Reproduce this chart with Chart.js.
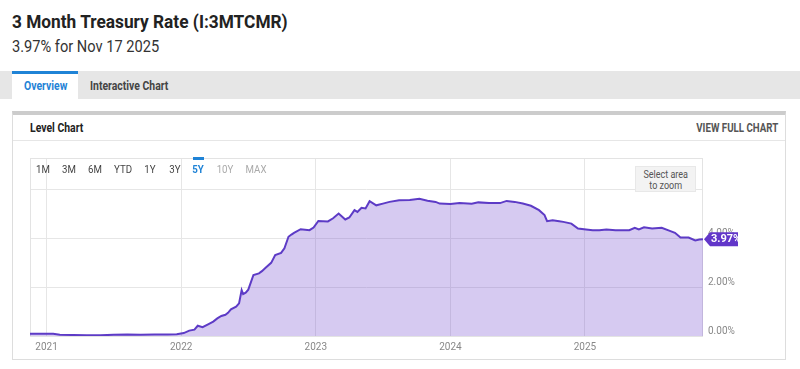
<!DOCTYPE html>
<html>
<head>
<meta charset="utf-8">
<script src="https://cdn.jsdelivr.net/npm/chart.js@4.4.0/dist/chart.umd.min.js"></script>
<style>
  html, body { margin: 0; padding: 0; background: #fff; }
  body { width: 800px; height: 369px; position: relative; overflow: hidden; font-family: Roboto, "Noto Sans", sans-serif; }
  .t { position: absolute; white-space: nowrap; line-height: 1; transform-origin: left center; transform: scaleX(0.87); }
  .tr { transform-origin: right center; }
  .btn { position: absolute; top: 164px; font-size: 11px; line-height: 11px; color: #444; white-space: nowrap; transform: translateX(-50%) scaleX(0.88); }
  #tabbar { position: absolute; left: 0; top: 71px; width: 800px; height: 28px; background: #e6e6e6; }
  #tabOn { position: absolute; left: 12px; top: 71px; width: 66px; height: 28px; background: #fff; border-top: 3px solid #1f83d6; box-sizing: border-box; }
  #box { position: absolute; left: 12px; top: 111px; width: 774px; height: 249px; border: 1px solid #ddd; border-top: 4px solid #ccc; box-sizing: border-box; }
  #sep { position: absolute; left: 13px; top: 140px; width: 772px; height: 1px; background: #e6e6e6; }
  #wrap { position: absolute; left: 0; top: 142px; width: 800px; height: 218px; }
  #zoomBox { position: absolute; left: 635px; top: 166px; width: 61px; height: 26px; background: #f3f3f3; border: 1px solid #e8e8e8; box-sizing: border-box; font-size: 10px; line-height: 11px; color: #555; text-align: center; padding-top: 2px; }
  #zoomBox span { display: inline-block; transform: scaleX(0.9); }
  #bar5y { position: absolute; left: 193px; top: 157px; width: 11px; height: 3px; background: #1f83d6; }
</style>
</head>
<body>
<div class="t" style="left:12px;top:13px;font-size:18px;font-weight:700;color:#222;transform:scaleX(0.96)">3 Month Treasury Rate (I:3MTCMR)</div>
<div class="t" style="left:12px;top:38px;font-size:17px;color:#333;transform:scaleX(0.86)">3.97% for Nov 17 2025</div>

<div id="tabbar"></div>
<div id="tabOn"></div>
<div class="t" style="left:24px;top:80px;font-size:12px;font-weight:700;color:#1f83d6">Overview</div>
<div class="t" style="left:90px;top:80px;font-size:12px;font-weight:700;color:#444">Interactive Chart</div>

<div id="box"></div>
<div id="sep"></div>
<div class="t" style="left:30px;top:122px;font-size:12px;font-weight:700;color:#222">Level Chart</div>
<div class="t tr" style="right:22px;top:122px;font-size:12px;font-weight:700;color:#555;transform:scaleX(0.81)">VIEW FULL CHART</div>

<div id="wrap"><canvas id="myChart"></canvas></div>

<div id="bar5y"></div>
<div class="btn" style="left:43px">1M</div>
<div class="btn" style="left:69px">3M</div>
<div class="btn" style="left:95px">6M</div>
<div class="btn" style="left:123px">YTD</div>
<div class="btn" style="left:150px">1Y</div>
<div class="btn" style="left:175px">3Y</div>
<div class="btn" style="left:198px;color:#1f83d6;font-weight:700">5Y</div>
<div class="btn" style="left:225px;color:#aaa">10Y</div>
<div class="btn" style="left:256px;color:#aaa">MAX</div>
<div id="zoomBox"><span>Select area<br>to zoom</span></div>

<script>
// Données (taux 3 mois, en %)
var dates = [
    '2020-11-17', '2020-12-13', '2021-01-19', '2021-02-06', '2021-03-15', '2021-04-20',
    '2021-05-27', '2021-07-02', '2021-08-08', '2021-09-13', '2021-10-20', '2021-11-25',
    '2021-12-20', '2022-01-08', '2022-01-23', '2022-02-06', '2022-02-15', '2022-02-28',
    '2022-03-15', '2022-03-29', '2022-04-09', '2022-04-20', '2022-05-01', '2022-05-08',
    '2022-05-16', '2022-05-30', '2022-06-07', '2022-06-14', '2022-06-18', '2022-06-25',
    '2022-07-02', '2022-07-16', '2022-07-31', '2022-08-08', '2022-08-18', '2022-09-02',
    '2022-09-13', '2022-09-29', '2022-10-08', '2022-10-19', '2022-10-27', '2022-11-03',
    '2022-11-21', '2022-12-15', '2022-12-26', '2023-01-08', '2023-02-03', '2023-02-17',
    '2023-03-04', '2023-03-22', '2023-04-02', '2023-04-16', '2023-04-24', '2023-05-05',
    '2023-05-16', '2023-05-27', '2023-06-14', '2023-07-02', '2023-07-20', '2023-08-15',
    '2023-09-13', '2023-10-09', '2023-10-31', '2023-11-22', '2023-12-03', '2024-01-01',
    '2024-01-26', '2024-02-28', '2024-03-17', '2024-04-15', '2024-05-15', '2024-06-02',
    '2024-06-24', '2024-07-16', '2024-08-07', '2024-08-29', '2024-09-13', '2024-09-20',
    '2024-10-05', '2024-10-23', '2024-11-03', '2024-11-25', '2024-12-13', '2025-01-04',
    '2025-01-22', '2025-02-09', '2025-02-28', '2025-03-25', '2025-05-01', '2025-05-16',
    '2025-05-27', '2025-06-10', '2025-07-02', '2025-07-28', '2025-08-19', '2025-09-02',
    '2025-09-17', '2025-10-09', '2025-10-27', '2025-11-07', '2025-11-17'
];
var rates = [
    0.09, 0.09, 0.09, 0.05, 0.04, 0.03,
    0.03, 0.05, 0.06, 0.05, 0.06, 0.06,
    0.07, 0.12, 0.22, 0.26, 0.42, 0.36,
    0.48, 0.59, 0.72, 0.82, 0.87, 0.95,
    1.09, 1.20, 1.34, 1.88, 1.72, 1.78,
    1.90, 2.50, 2.57, 2.66, 2.80, 3.00,
    3.32, 3.41, 3.60, 4.07, 4.16, 4.23,
    4.38, 4.34, 4.45, 4.72, 4.70, 4.83,
    5.02, 4.78, 4.86, 5.16, 5.09, 5.26,
    5.23, 5.53, 5.36, 5.43, 5.50, 5.57,
    5.58, 5.63, 5.55, 5.50, 5.43, 5.41,
    5.45, 5.42, 5.48, 5.45, 5.45, 5.54,
    5.50, 5.43, 5.34, 5.16, 4.96, 4.71,
    4.75, 4.71, 4.68, 4.61, 4.41, 4.37,
    4.34, 4.34, 4.37, 4.34, 4.34, 4.44,
    4.37, 4.46, 4.41, 4.44, 4.31, 4.23,
    4.04, 4.04, 3.92, 3.96, 3.97
];
var yearTicks = [2021, 2022, 2023, 2024, 2025];
var yTicks = [0, 2, 4, 6];
var lastLabel = '3.97%';

// date 'YYYY-MM-DD' -> année décimale (pas d'adaptateur de dates)
function toYear(s) {
    var p = s.split('-');
    var y = parseInt(p[0]);
    var t = Date.UTC(y, parseInt(p[1]) - 1, parseInt(p[2]));
    var t0 = Date.UTC(y, 0, 1);
    var t1 = Date.UTC(y + 1, 0, 1);
    return y + (t - t0) / (t1 - t0);
}

var points = dates.map(function (d, i) { return { x: toYear(d), y: rates[i] }; });

var lineColor = '#5d3bc6';

// cadre de la zone de tracé + étiquette de la dernière valeur
const framePlugin = {
    id: 'frame',
    beforeDatasetsDraw(chart) {
        const a = chart.chartArea;
        const c = chart.ctx;
        c.save();
        c.strokeStyle = '#e3e3e3';
        c.lineWidth = 1;
        c.strokeRect(a.left + 0.5, a.top + 0.5, a.right - a.left - 1, a.bottom - a.top);
        c.restore();
    },
    afterDraw(chart) {
        const c = chart.ctx;
        const xr = chart.chartArea.right;
        const y = chart.scales.y.getPixelForValue(rates[rates.length - 1]);
        c.save();
        c.fillStyle = '#6236c9';
        c.beginPath();
        c.moveTo(xr + 1, y);
        c.lineTo(xr + 7, y - 7);
        c.lineTo(xr + 35, y - 7);
        c.lineTo(xr + 35, y + 7);
        c.lineTo(xr + 7, y + 7);
        c.closePath();
        c.fill();
        c.fillStyle = '#fff';
        c.font = 'bold 11px Roboto';
        c.textBaseline = 'middle';
        c.textAlign = 'left';
        c.fillText(lastLabel, xr + 8, y + 0.5);
        c.restore();
    }
};

const ctx = document.getElementById('myChart');
const chart = new Chart(ctx, {
    type: 'line',
    data: {
        datasets: [{
            data: points,
            borderColor: lineColor,
            borderWidth: 2,
            backgroundColor: 'rgba(106, 66, 206, 0.28)',
            fill: 'origin',
            pointRadius: 0,
            tension: 0
        }]
    },
    options: {
        responsive: true,
        maintainAspectRatio: false,
        animation: false,
        layout: { padding: { left: 30, top: 16, right: 0, bottom: 0 } },
        plugins: {
            legend: { display: false },
            tooltip: { enabled: false }
        },
        scales: {
            x: {
                type: 'linear',
                min: toYear(dates[0]),
                max: toYear(dates[dates.length - 1]),
                afterBuildTicks: function (s) { s.ticks = yearTicks.map(function (v) { return { value: v }; }); },
                afterFit: function (s) { s.height = 24; },
                grid: { color: '#e6e6e6', drawTicks: false },
                border: { display: false },
                ticks: {
                    padding: 5,
                    color: '#888',
                    font: { family: 'Roboto', size: 10 },
                    callback: function (v) { return String(v); }
                }
            },
            y: {
                position: 'right',
                min: 0,
                max: 7.3,
                afterBuildTicks: function (s) { s.ticks = yTicks.map(function (v) { return { value: v }; }); },
                afterFit: function (s) { s.width = 97; },
                grid: { color: '#e6e6e6', drawTicks: false },
                border: { display: false },
                ticks: {
                    padding: 5,
                    labelOffset: -5,
                    color: '#888',
                    font: { family: 'Roboto', size: 10 },
                    callback: function (v) { return v === 6 ? '' : v.toFixed(2) + '%'; }
                }
            }
        }
    },
    plugins: [framePlugin]
});
</script>
</body>
</html>
